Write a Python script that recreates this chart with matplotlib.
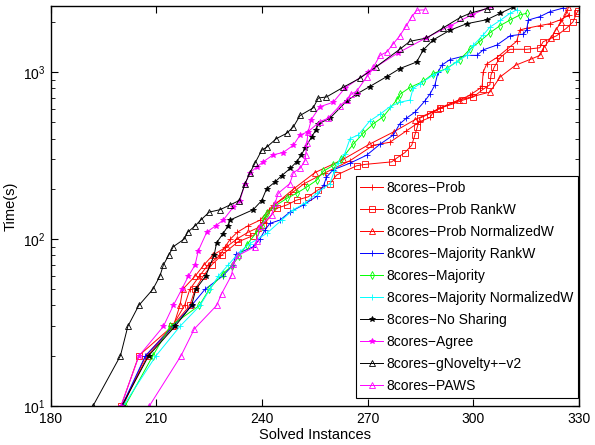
import matplotlib
matplotlib.use("Agg")
import matplotlib.pyplot as plt

plt.rcParams['font.family'] = ['Liberation Sans', 'DejaVu Sans']
plt.rcParams['mathtext.fontset'] = 'custom'
plt.rcParams['mathtext.rm'] = 'Liberation Sans'
plt.rcParams['mathtext.it'] = 'Liberation Sans:italic'

# x = solved instances, y = time (s)
prob_x = [200.5, 207.0, 214.5, 218.0, 219.5, 222.2, 224.7, 228.1, 229.5, 231.0, 233.0, 236.0, 239.5, 242.0,
          243.2, 247.9, 252.0, 258.0, 265.0, 271.6, 276.3, 281.0, 284.8, 287.7, 288.6, 290.5, 294.3, 299.0,
          299.5, 301.9, 302.5, 302.8, 303.8, 306.6, 312.3, 313.2, 315.1, 318.9, 321.7, 324.5, 327.3]
prob_y = [10, 20, 30, 40, 50, 60, 70, 80, 90, 100, 110, 120, 130, 150,
          160, 185, 215, 250, 295, 365, 380, 445, 505, 535, 575, 610, 660, 725,
          740, 800, 830, 1000, 1120, 1220, 1530, 1790, 1830, 1900, 1950, 2050, 2200]

rankw_x = [200.0, 205.0, 214.5, 219.5, 221.0, 223.3, 225.7, 228.5, 233.1, 237.5, 240.3, 244.2, 247.0, 249.8,
           253.1, 255.9, 259.3, 261.2, 266.9, 269.2, 276.8, 278.2, 280.6, 282.5, 283.4, 284.1, 284.8, 287.7,
           290.5, 293.3, 297.1, 300.0, 302.8, 304.7, 305.0, 306.0, 307.6, 310.4, 315.1, 318.9, 319.8, 323.6,
           326.4, 328.3, 329.3, 329.7]
rankw_y = [10, 20, 30, 40, 50, 60, 70, 80, 96, 105, 121, 153, 160, 171,
           179, 197, 215, 242, 275, 280, 290, 305, 330, 365, 420, 470, 530, 565,
           610, 635, 680, 710, 790, 840, 960, 1080, 1220, 1370, 1370, 1400, 1520, 1650,
           1830, 2000, 2250, 2320]

normw_x = [200.3, 207.5, 214.8, 216.7, 217.5, 221.0, 223.5, 226.0, 230.0, 232.8, 236.1, 238.9, 240.5, 243.5,
           249.0, 255.0, 263.0, 270.5, 277.5, 283.5, 290.0, 296.0, 304.7, 307.6, 312.0, 316.5, 318.9, 320.0,
           322.0, 323.5, 325.0, 326.4, 327.0]
normw_y = [10, 20, 30, 40, 50, 60, 70, 80, 90, 100, 110, 117, 130, 160,
           200, 250, 300, 370, 440, 520, 600, 680, 760, 935, 1100, 1200, 1260, 1400,
           1600, 1800, 2000, 2250, 2450]

majrank_x = [200.2, 206.9, 214.8, 220.0, 223.8, 228.8, 231.8, 232.6, 237.5, 239.4, 240.8, 242.2, 245.1, 247.9,
             251.7, 255.5, 257.5, 258.3, 260.2, 265.0, 269.7, 273.5, 277.3, 279.1, 281.0, 283.4, 286.2, 287.7,
             289.1, 290.0, 291.0, 293.4, 298.1, 301.0, 302.8, 306.6, 310.4, 314.2, 315.1, 315.6, 318.9, 321.7,
             325.5]
majrank_y = [10, 20, 30, 40, 50, 60, 70, 81, 90, 100, 113, 124, 130, 145,
             160, 180, 210, 235, 260, 285, 318, 370, 420, 490, 530, 575, 670, 740,
             840, 1000, 1100, 1190, 1260, 1260, 1360, 1450, 1650, 1690, 1780, 2050, 2150, 2300,
             2420]

maj_x = [201.1, 209.0, 213.9, 222.2, 225.0, 228.8, 231.4, 233.5, 235.6, 238.5, 239.9, 240.5, 241.5, 243.5,
         247.0, 249.8, 252.7, 255.5, 257.4, 260.2, 262.5, 265.9, 268.7, 271.6, 274.4, 278.2, 279.3, 282.0,
         285.8, 288.6, 292.4, 296.2, 299.0, 301.9, 304.7, 307.6, 310.4, 313.2, 315.1]
maj_y = [10, 20, 30, 40, 50, 62, 69, 79, 92, 110, 120, 133, 143, 157,
         175, 188, 205, 225, 255, 276, 300, 370, 430, 490, 540, 680, 740, 810,
         880, 980, 1050, 1190, 1370, 1530, 1720, 1900, 2050, 2200, 2250]

majnorm_x = [200.6, 209.9, 216.7, 222.4, 225.2, 227.6, 230.4, 233.7, 236.6, 241.3, 245.6, 248.9, 252.2, 255.5,
             259.3, 260.5, 261.5, 263.5, 265.0, 267.3, 270.6, 273.5, 276.3, 279.1, 282.0, 282.9, 284.8, 288.6,
             292.4, 295.2, 298.1, 300.0, 302.8, 304.7, 307.6, 310.4, 312.5]
majnorm_y = [10, 20, 30, 40, 50, 60, 70, 84, 94, 108, 130, 150, 164, 188,
             215, 255, 285, 325, 400, 420, 510, 560, 620, 660, 680, 800, 850, 960,
             1050, 1150, 1260, 1450, 1670, 1860, 2040, 2250, 2370]

noshare_x = [200.2, 207.8, 215.3, 220.0, 221.2, 224.0, 226.4, 227.1, 228.8, 230.4, 230.9, 237.5, 239.9, 241.3,
             243.7, 245.6, 248.0, 249.8, 251.2, 252.2, 254.1, 255.3, 256.0, 259.3, 264.0, 266.9, 270.6, 275.4,
             279.1, 283.9, 285.8, 288.6, 293.3, 298.1, 303.8, 307.6, 311.3]
noshare_y = [10, 20, 30, 40, 50, 60, 80, 95, 107, 120, 130, 150, 170, 200,
             220, 240, 265, 290, 320, 350, 410, 450, 490, 530, 670, 740, 820, 940,
             1050, 1150, 1360, 1560, 1780, 1950, 2060, 2250, 2450]

agree_x = [199.9, 205.1, 212.0, 214.8, 217.2, 219.1, 221.0, 221.9, 224.3, 226.8, 229.0, 231.8, 233.7, 235.2,
           236.6, 238.5, 240.3, 243.2, 246.0, 248.9, 250.8, 253.1, 254.0, 256.4, 260.2, 263.5, 270.0, 278.5,
           286.5, 293.5, 299.5, 305.0]
agree_y = [10, 20, 30, 40, 50, 60, 70, 85, 110, 120, 130, 155, 170, 215,
           250, 270, 290, 320, 330, 365, 420, 440, 520, 620, 660, 800, 1000, 1300,
           1600, 1900, 2200, 2480]

gnov_x = [192.0, 199.8, 201.9, 205.0, 209.0, 211.0, 212.0, 213.5, 214.8, 217.9, 218.9, 221.0, 222.6, 225.0,
          228.1, 230.9, 233.5, 235.2, 236.6, 238.0, 239.9, 241.3, 244.1, 247.0, 248.9, 250.8, 254.5, 256.0,
          258.3, 263.0, 267.8, 272.5, 279.1, 282.0, 286.7, 291.4, 296.2, 299.0, 303.8, 304.7]
gnov_y = [10, 20, 30, 40, 50, 60, 70, 80, 90, 100, 110, 120, 130, 145,
          150, 160, 170, 215, 250, 285, 340, 355, 400, 430, 470, 550, 610, 700,
          710, 810, 920, 1080, 1370, 1530, 1600, 1840, 2120, 2250, 2400, 2480]

paws_x = [208.0, 217.0, 220.8, 227.1, 228.5, 231.4, 231.8, 233.3, 238.0, 238.5, 239.4, 242.7, 243.7, 244.6,
          247.9, 248.9, 250.8, 252.2, 252.4, 252.7, 253.1, 256.4, 258.8, 262.1, 264.0, 265.4, 266.9, 269.7,
          271.6, 273.5, 275.4, 277.3, 279.1, 281.0, 282.5, 284.0, 286.2]
paws_y = [10, 20, 29, 40, 47, 61, 71, 80, 90, 97, 120, 139, 164, 188,
          215, 250, 265, 295, 318, 375, 440, 505, 530, 630, 680, 740, 770, 935,
          1070, 1260, 1320, 1480, 1650, 1900, 2150, 2350, 2360]

M = '\u2212'
series = [
    (prob_x, prob_y, '8cores' + M + 'Prob', '#ff0000', '+', 'full'),
    (rankw_x, rankw_y, '8cores' + M + 'Prob RankW', '#ff0000', 's', 'none'),
    (normw_x, normw_y, '8cores' + M + 'Prob NormalizedW', '#ff0000', '^', 'none'),
    (majrank_x, majrank_y, '8cores' + M + 'Majority RankW', '#0000ff', '+', 'full'),
    (maj_x, maj_y, '8cores' + M + 'Majority', '#00ff00', 'd', 'none'),
    (majnorm_x, majnorm_y, '8cores' + M + 'Majority NormalizedW', '#00ffff', '+', 'full'),
    (noshare_x, noshare_y, '8cores' + M + 'No Sharing', '#000000', '*', 'full'),
    (agree_x, agree_y, '8cores' + M + 'Agree', '#ff00ff', '*', 'full'),
    (gnov_x, gnov_y, '8cores' + M + 'gNovelty+' + M + 'v2', '#000000', '^', 'none'),
    (paws_x, paws_y, '8cores' + M + 'PAWS', '#ff00ff', '^', 'none'),
]

fig = plt.figure(figsize=(5.95, 4.45), dpi=100)
ax = fig.add_axes([50.7 / 595, 39 / 445, 528.3 / 595, 400.3 / 445])

for xs, ys, lab, col, mk, fs in series:
    ax.plot(xs, ys, color=col, marker=mk, fillstyle=fs, markersize=4,
            markeredgewidth=0.6, linewidth=0.7, label=lab)

ax.set_yscale('log')
ax.set_xlim(180, 330)
ax.set_ylim(10, 2500)
ax.set_xticks([180, 210, 240, 270, 300, 330])
ax.tick_params(which='both', direction='in', top=True, right=True, labelsize=10)
ax.tick_params(which='major', length=5, width=0.8)
ax.tick_params(which='minor', length=3, width=0.6)
ax.tick_params(axis='x', pad=4.5)
for s in ax.spines.values():
    s.set_linewidth(1.0)

ax.set_xlabel('Solved Instances', fontsize=10.5, labelpad=1)
ax.set_ylabel('Time(s)', fontsize=10.5)
ax.yaxis.set_label_coords(-0.062, 0.5)

leg = ax.legend(loc='lower right', bbox_to_anchor=(578 / 595, 47 / 445),
                bbox_transform=fig.transFigure, borderaxespad=0, fontsize=10,
                numpoints=1, handlelength=1.65, handletextpad=0.25, labelspacing=0.58,
                borderpad=0.35, fancybox=False, framealpha=1, edgecolor='black')
leg.get_frame().set_linewidth(0.8)

fig.savefig('out.png', dpi=100)
